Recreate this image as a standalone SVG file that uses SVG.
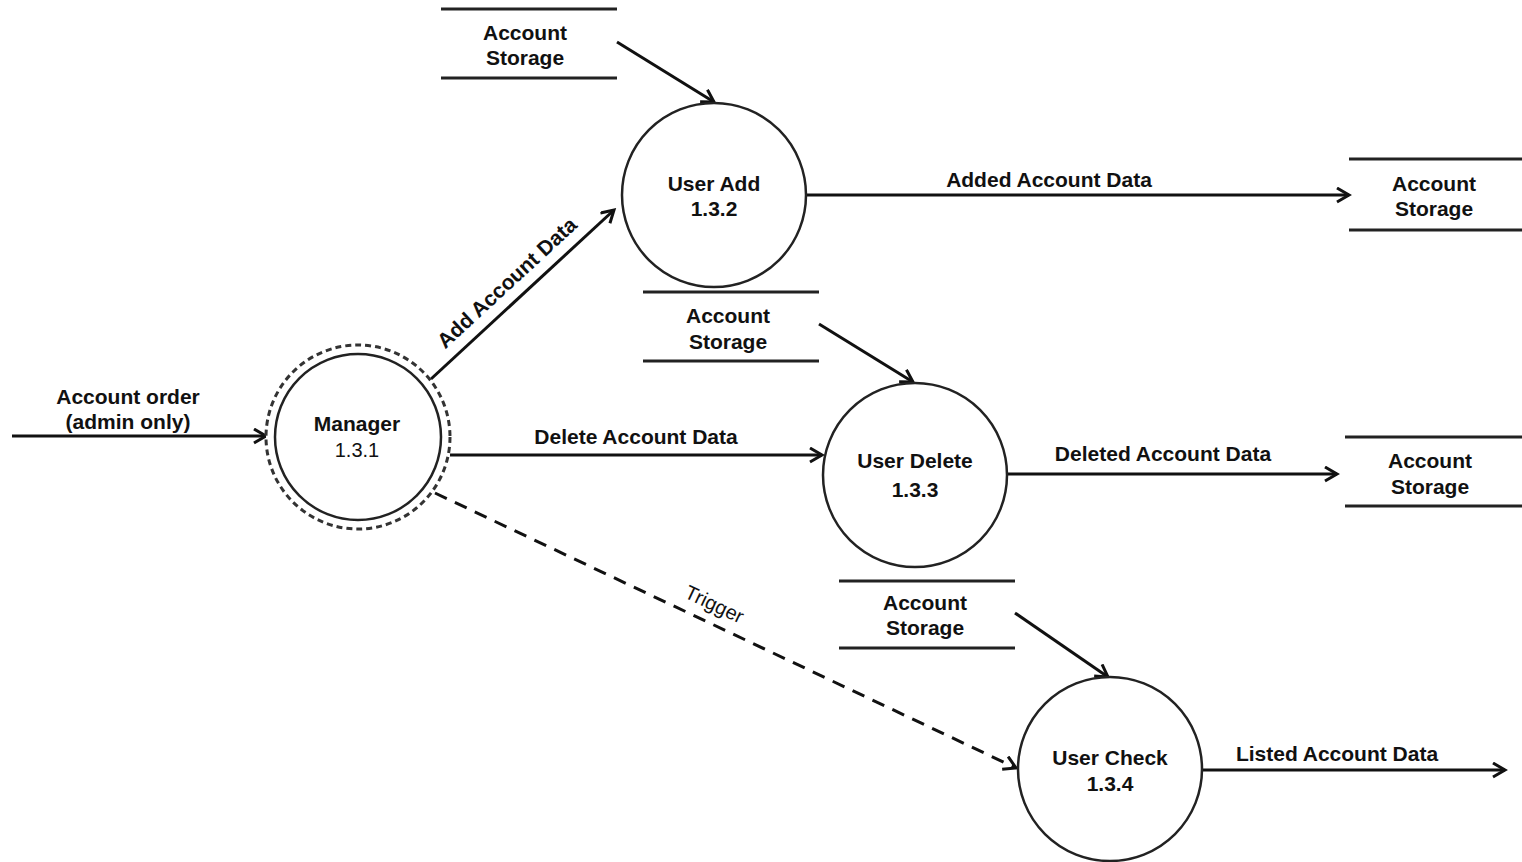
<svg xmlns="http://www.w3.org/2000/svg" width="1522" height="862" viewBox="0 0 1522 862">
<style>
.t{font-family:"Liberation Sans",Arial,sans-serif;font-size:21px;font-weight:bold;fill:#111;text-anchor:middle}
.n{font-family:"Liberation Sans",Arial,sans-serif;font-size:20px;fill:#111;text-anchor:middle}
.c{fill:#fff;stroke:#222;stroke-width:2.5}
.s{stroke:#222;stroke-width:3}
.e{fill:none;stroke:#111;stroke-width:3}
.d{stroke-dasharray:13 9}
</style>
<defs>
<marker id="a" markerUnits="userSpaceOnUse" markerWidth="20" markerHeight="20" refX="13" refY="8" orient="auto" viewBox="0 0 20 20">
<path d="M1,1 L13,8 L1,15" fill="none" stroke="#111" stroke-width="3"/>
</marker>
</defs>
<rect width="1522" height="862" fill="#fff"/>
<g id="connectors">
<line class="e" x1="12" y1="436" x2="266" y2="436" marker-end="url(#a)"/>
<line class="e" x1="617" y1="42" x2="714" y2="102" marker-end="url(#a)"/>
<line class="e" x1="431" y1="379" x2="614" y2="210" marker-end="url(#a)"/>
<line class="e" x1="806" y1="195" x2="1349" y2="195" marker-end="url(#a)"/>
<line class="e" x1="819" y1="324" x2="913" y2="382" marker-end="url(#a)"/>
<line class="e" x1="450" y1="455" x2="822" y2="455" marker-end="url(#a)"/>
<line class="e" x1="1007" y1="474" x2="1337" y2="474" marker-end="url(#a)"/>
<line class="e" x1="1015" y1="613" x2="1108" y2="677" marker-end="url(#a)"/>
<line class="e d" x1="435" y1="493" x2="1016" y2="768" marker-end="url(#a)"/>
<line class="e" x1="1202" y1="770" x2="1505" y2="770" marker-end="url(#a)"/>
<text class="t" x="128" y="404">Account order</text>
<text class="t" x="128" y="429">(admin only)</text>
<text class="t" transform="translate(507,283) rotate(-42.7)" y="7">Add Account Data</text>
<text class="t" x="1049" y="187">Added Account Data</text>
<text class="t" x="636" y="444">Delete Account Data</text>
<text class="t" x="1163" y="461">Deleted Account Data</text>
<text class="n" transform="translate(714,605) rotate(25.3)" y="6">Trigger</text>
<text class="t" x="1337" y="761">Listed Account Data</text>
</g>
<g id="manager">
<circle cx="358" cy="437" r="92" fill="#fff" stroke="#333" stroke-width="3" stroke-dasharray="6 4"/>
<circle class="c" cx="358" cy="437" r="83"/>
<text class="t" x="357" y="431">Manager</text>
<text class="n" x="357" y="457">1.3.1</text>
</g>
<g id="user-add">
<circle class="c" cx="714" cy="195" r="92"/>
<text class="t" x="714" y="191">User Add</text>
<text class="t" x="714" y="216">1.3.2</text>
</g>
<g id="user-delete">
<circle class="c" cx="915" cy="475" r="92"/>
<text class="t" x="915" y="468">User Delete</text>
<text class="t" x="915" y="497">1.3.3</text>
</g>
<g id="user-check">
<circle class="c" cx="1110" cy="769" r="92"/>
<text class="t" x="1110" y="765">User Check</text>
<text class="t" x="1110" y="791">1.3.4</text>
</g>
<g id="store-top">
<line class="s" x1="441" y1="9" x2="617" y2="9"/>
<line class="s" x1="441" y1="78" x2="617" y2="78"/>
<text class="t" x="525" y="40">Account</text>
<text class="t" x="525" y="65">Storage</text>
</g>
<g id="store-add-out">
<line class="s" x1="1349" y1="159" x2="1522" y2="159"/>
<line class="s" x1="1349" y1="230" x2="1522" y2="230"/>
<text class="t" x="1434" y="191">Account</text>
<text class="t" x="1434" y="216">Storage</text>
</g>
<g id="store-mid">
<line class="s" x1="643" y1="292" x2="819" y2="292"/>
<line class="s" x1="643" y1="361" x2="819" y2="361"/>
<text class="t" x="728" y="323">Account</text>
<text class="t" x="728" y="349">Storage</text>
</g>
<g id="store-delete-out">
<line class="s" x1="1345" y1="437" x2="1522" y2="437"/>
<line class="s" x1="1345" y1="506" x2="1522" y2="506"/>
<text class="t" x="1430" y="468">Account</text>
<text class="t" x="1430" y="494">Storage</text>
</g>
<g id="store-low">
<line class="s" x1="839" y1="581" x2="1015" y2="581"/>
<line class="s" x1="839" y1="648" x2="1015" y2="648"/>
<text class="t" x="925" y="610">Account</text>
<text class="t" x="925" y="635">Storage</text>
</g>
</svg>
